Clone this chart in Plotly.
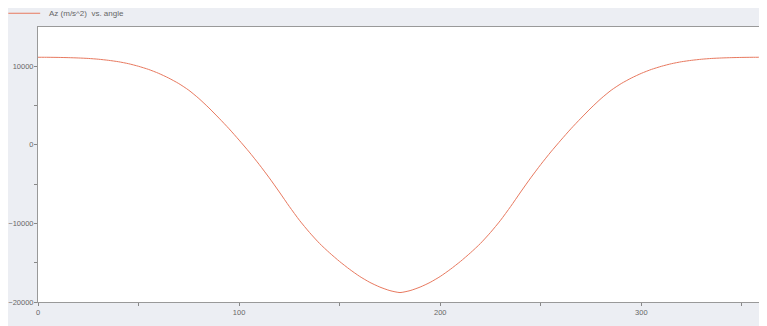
import plotly.graph_objects as go

angle = list(range(0, 361, 5))
az_half = [11150, 11145, 11130, 11100, 11060, 11000, 10900, 10760, 10580, 10330,
           10000, 9600, 9100, 8500, 7800, 6950, 5900, 4700, 3400, 2050,
           600, -900, -2500, -4200, -6000, -7850, -9600, -11150, -12550, -13750,
           -14850, -15850, -16750, -17500, -18100, -18550, -18800]
az = az_half + az_half[-2::-1]

series_name = "Az (m/s^2)  vs. angle"
x_ticks = [0, 100, 200, 300]
y_ticks = [-20000, -10000, 0, 10000]
line_color = "#e8795f"

fig = go.Figure()
fig.add_trace(go.Scatter(x=angle, y=az, mode="lines", name=series_name, showlegend=False,
                         line=dict(color=line_color, width=1, shape="spline", smoothing=0.6)))

# legend drawn as a key line + text label above the plot
fig.add_shape(type="line", xref="paper", yref="paper", x0=-0.041, x1=0.003, y0=1.05, y1=1.05,
              line=dict(color=line_color, width=1))
fig.add_annotation(text=series_name, xref="paper", yref="paper", x=0.0124, y=1.05,
                   xanchor="left", yanchor="middle", showarrow=False,
                   font=dict(family="Liberation Sans, Arial", size=8, color="#666666"))

fig.update_layout(
    width=759, height=318,
    margin=dict(l=30, r=5, t=19, b=24, autoexpand=False),
    paper_bgcolor="#eceef3",
    plot_bgcolor="#ffffff",
    font=dict(family="Liberation Sans, Arial", size=7.5, color="#666666"),
)
fig.update_xaxes(range=[0, 360], tickvals=x_ticks, ticks="outside", ticklen=3,
                 tickcolor="#888888", showgrid=False, zeroline=False,
                 showline=True, linecolor="#999999", linewidth=1, mirror=True,
                 minor=dict(tickvals=[50, 150, 250, 350], ticks="outside", ticklen=3, tickcolor="#888888"),
                 tickfont=dict(size=7.5, color="#666666"))
fig.update_yaxes(range=[-20000, 15000], tickvals=y_ticks, tickformat="d", ticks="outside", ticklen=3,
                 tickcolor="#888888", showgrid=False, zeroline=False,
                 showline=True, linecolor="#999999", linewidth=1, mirror=True,
                 ticklabelstandoff=-1,
                 minor=dict(tickvals=[-15000, -5000, 5000], ticks="outside", ticklen=3, tickcolor="#888888"),
                 tickfont=dict(size=7.5, color="#666666"))

fig.write_html("out.html")
